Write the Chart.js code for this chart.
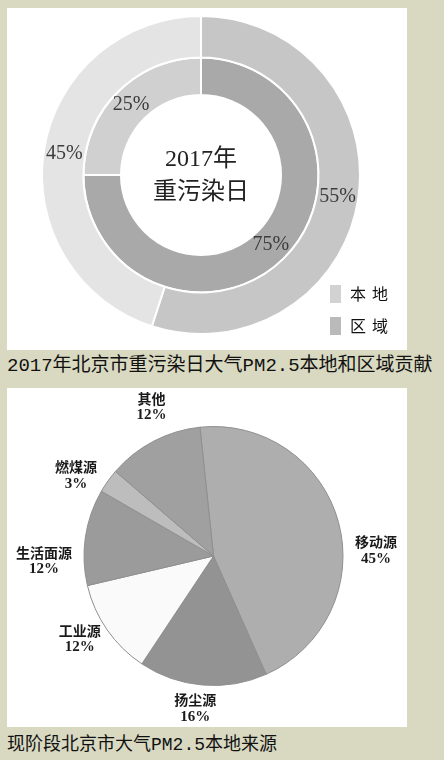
<!DOCTYPE html>
<html>
<head>
<meta charset="utf-8">
<script src="https://cdn.jsdelivr.net/npm/chart.js@4.4.0/dist/chart.umd.min.js"></script>
<style>
body { margin: 0; width: 444px; height: 760px; overflow: hidden; background: #d9d9c1; }
.panel { position: absolute; left: 7px; width: 400px; background: #fff; }
#p1 { top: 8px; height: 342px; }
#p2 { top: 388px; height: 339px; }
.cap { position: absolute; left: 7px; white-space: nowrap; color: #111;
       font-family: "Liberation Mono", "Noto Sans CJK SC"; }
#c1 { top: 355px; font-size: 19px; line-height: 22px; }
#c2 { top: 734px; font-size: 18px; line-height: 22px; }
</style>
</head>
<body>
<div class="panel" id="p1"><canvas id="ringChart" width="400" height="342"></canvas></div>
<div class="cap" id="c1">2017年北京市重污染日大气PM2.5本地和区域贡献</div>
<div class="panel" id="p2"><canvas id="pieChart" width="400" height="339"></canvas></div>
<div class="cap" id="c2">现阶段北京市大气PM2.5本地来源</div>
<script>
// chart 1: outer ring / inner ring, starting at 12 o'clock
var ringLabels = ['区域', '本地'];
var outerValues = [55, 45];
var innerValues = [75, 25];
var centerLines = ['2017年', '重污染日'];

// chart 2: local sources
var sourceLabels = ['移动源', '扬尘源', '工业源', '生活面源', '燃煤源', '其他'];
var sourceValues = [45, 16, 12, 12, 3, 12];

var ringText = {
    id: 'ringText',
    afterDatasetsDraw: function (chart, args, opts) {
        var ctx = chart.ctx;
        ctx.save();
        ctx.textAlign = 'center';
        ctx.textBaseline = 'middle';
        ctx.font = '20px "Liberation Serif"';
        ctx.fillStyle = '#3c3c3c';
        chart.data.datasets.forEach(function (ds, i) {
            chart.getDatasetMeta(i).data.forEach(function (arc, j) {
                var p = arc.tooltipPosition();
                ctx.fillText(ds.data[j] + '%', p.x, p.y);
            });
        });

        var arc0 = chart.getDatasetMeta(0).data[0];
        ctx.font = '24px "Liberation Serif", "Noto Sans CJK SC"';
        ctx.fillStyle = '#222';
        ctx.fillText(centerLines[0], arc0.x, arc0.y - 15);
        ctx.fillText(centerLines[1], arc0.x, arc0.y + 18);

        // legend in the lower right corner, 本地 first
        var area = chart.chartArea;
        var names = chart.data.labels.slice().reverse();
        ctx.textAlign = 'left';
        ctx.font = '16px "Noto Sans CJK SC"';
        ctx.letterSpacing = '6px';
        names.forEach(function (name, k) {
            var y = area.bottom - 50 + k * 32;
            ctx.fillStyle = opts.colors[name];
            ctx.fillRect(area.right - 65, y, 11, 18);
            ctx.fillStyle = '#111';
            ctx.fillText(name, area.right - 45, y + 9);
        });
        ctx.restore();
    }
};

var pieLabels = {
    id: 'pieLabels',
    afterDatasetsDraw: function (chart, args, opts) {
        var ctx = chart.ctx;
        var meta = chart.getDatasetMeta(0);
        ctx.save();
        ctx.textAlign = 'center';
        ctx.textBaseline = 'middle';
        ctx.fillStyle = '#1a1a1a';
        meta.data.forEach(function (arc, i) {
            var a = (arc.startAngle + arc.endAngle) / 2 + opts.nudge[i] * Math.PI / 180;
            var r = arc.outerRadius + opts.gap[i];
            var x = arc.x + r * Math.cos(a);
            var y = arc.y + r * Math.sin(a);
            ctx.font = 'bold 14px "Noto Sans CJK SC"';
            ctx.fillText(chart.data.labels[i], x, y - 8.5);
            ctx.font = 'bold 15px "Liberation Serif"';
            ctx.fillText(chart.data.datasets[0].data[i] + '%', x, y + 8.5);
        });
        ctx.restore();
    }
};

function createRing() {
    var ctx = document.getElementById('ringChart').getContext('2d');
    new Chart(ctx, {
        type: 'doughnut',
        data: {
            labels: ringLabels,
            datasets: [
                {
                    data: outerValues,
                    backgroundColor: ['#c6c6c6', '#e4e4e4'],
                    borderColor: '#fff',
                    borderWidth: 2,
                    weight: 42
                },
                {
                    data: innerValues,
                    backgroundColor: ['#a9a9a9', '#d0d0d0'],
                    borderColor: '#fff',
                    borderWidth: 2,
                    weight: 38
                }
            ]
        },
        options: {
            responsive: false,
            animation: false,
            events: [],
            cutout: 80,
            layout: { padding: { top: 7, bottom: 15, left: 0, right: 12 } },
            plugins: {
                legend: { display: false },
                tooltip: { enabled: false },
                ringText: { colors: { '本地': '#d2d2d2', '区域': '#bababa' } }
            }
        },
        plugins: [ringText]
    });
}

function createPie() {
    var ctx = document.getElementById('pieChart').getContext('2d');
    new Chart(ctx, {
        type: 'pie',
        data: {
            labels: sourceLabels,
            datasets: [{
                data: sourceValues,
                backgroundColor: ['#aeaeae', '#939393', '#fafafa', '#9b9b9b', '#bdbdbd', '#a0a0a0'],
                borderColor: '#8f8f8f',
                borderWidth: 1
            }]
        },
        options: {
            responsive: false,
            animation: false,
            events: [],
            rotation: -6,
            layout: { padding: { top: 38, bottom: 41, left: 13, right: 0 } },
            plugins: {
                legend: { display: false },
                tooltip: { enabled: false },
                pieLabels: {
                    nudge: [13, 2, 3, -10, -5, 5],
                    gap: [33, 24, 28, 40, 30, 32]
                }
            }
        },
        plugins: [pieLabels]
    });
}

createRing();
createPie();
</script>
</body>
</html>
